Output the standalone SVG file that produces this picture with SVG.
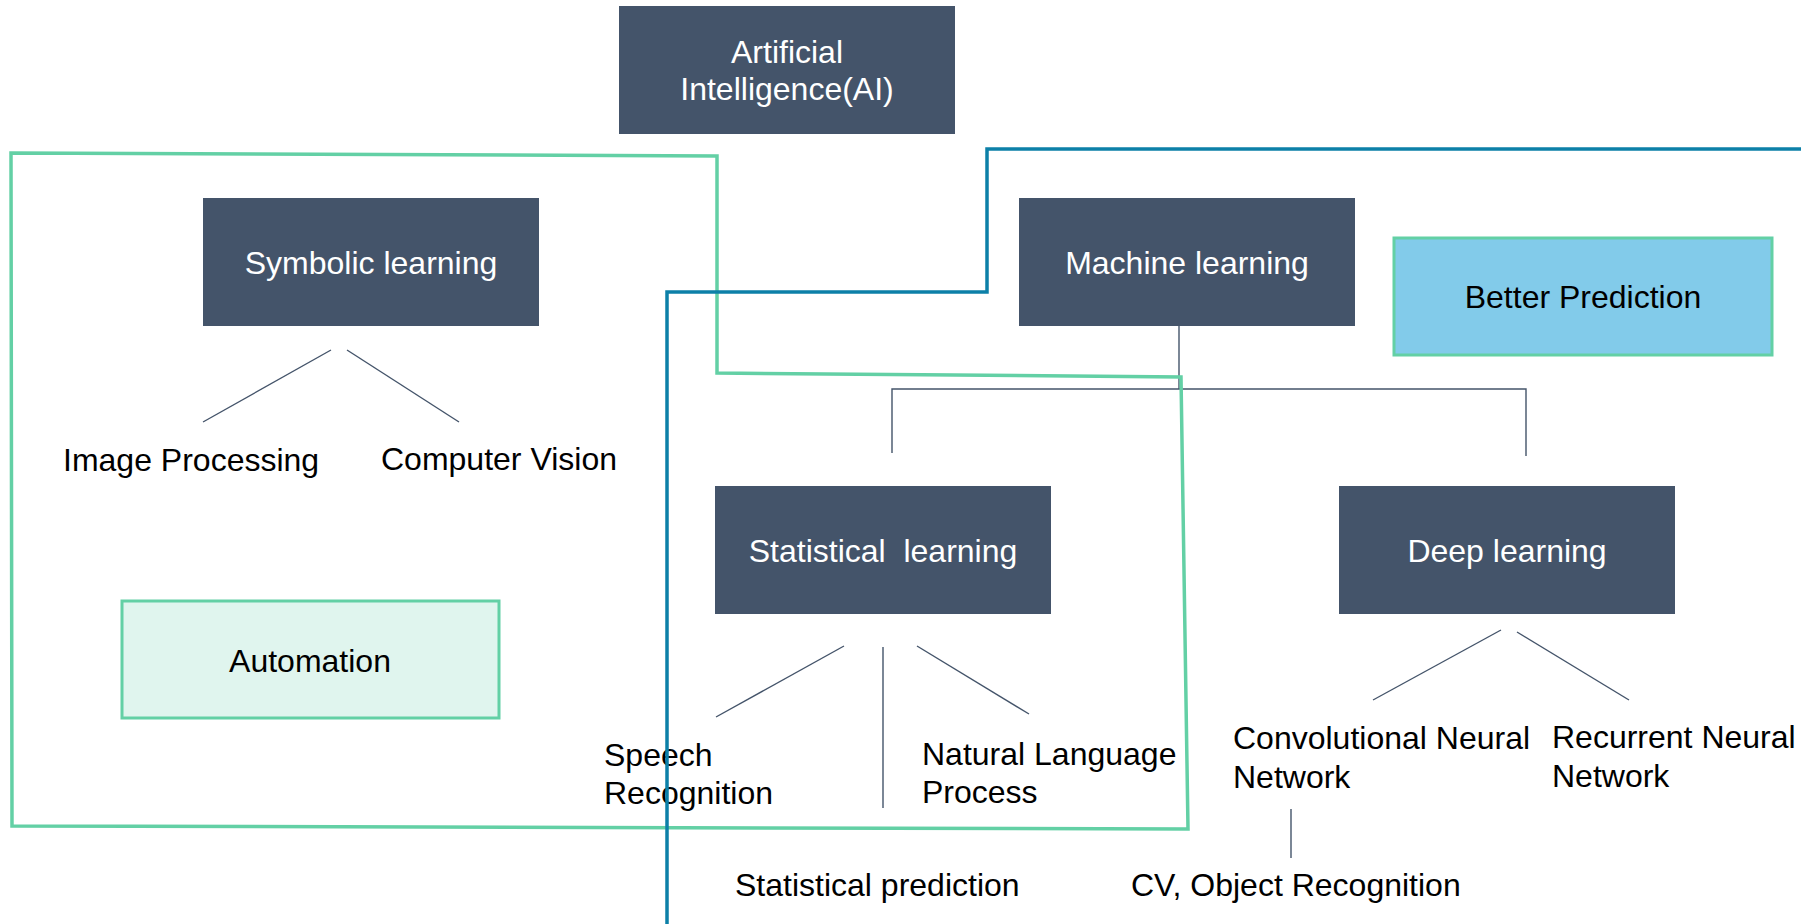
<svg xmlns="http://www.w3.org/2000/svg" width="1801" height="924" viewBox="0 0 1801 924">
  <style>
    .box { fill: #44546A; }
    .lbl { font-family: "Liberation Sans", Arial, sans-serif; font-size: 32px; }
    .w { fill: #FFFFFF; }
    .k { fill: #000000; }
    .mid { text-anchor: middle; }
    .conn { stroke: #44546A; stroke-width: 1.4; fill: none; }
    .zone-green { stroke: #63D0A5; stroke-width: 3.5; fill: none; stroke-linejoin: miter; }
    .zone-blue { stroke: #0C80A8; stroke-width: 3.5; fill: none; stroke-linejoin: miter; }
    .tag-green { fill: #E0F5EE; stroke: #63D0A5; stroke-width: 3; }
    .tag-blue { fill: #82CBEA; stroke: #63D0A5; stroke-width: 3; }
  </style>

  <rect width="1801" height="924" fill="#FFFFFF"/>

  <!-- connectors -->
  <g id="connectors">
    <!-- Symbolic learning branches -->
    <line class="conn" x1="331" y1="350" x2="203" y2="422"/>
    <line class="conn" x1="347" y1="350" x2="459" y2="422"/>
    <!-- Machine learning tree -->
    <line class="conn" x1="1179" y1="326" x2="1179" y2="389"/>
    <polyline class="conn" points="892,453 892,389 1526,389 1526,456"/>
    <!-- Statistical learning branches -->
    <line class="conn" x1="844" y1="646" x2="716" y2="717"/>
    <line class="conn" x1="883" y1="647" x2="883" y2="808"/>
    <line class="conn" x1="917" y1="646" x2="1029" y2="714"/>
    <!-- Deep learning branches -->
    <line class="conn" x1="1501" y1="630" x2="1373" y2="700"/>
    <line class="conn" x1="1517" y1="632" x2="1629" y2="700"/>
    <line class="conn" x1="1291" y1="809" x2="1291" y2="858"/>
  </g>

  <!-- green region outline -->
  <g id="zone-symbolic">
    <polygon class="zone-green" points="11,153 717,156 717,373 1181,377 1188,829 12,826"/>
  </g>

  <g id="node-ai">
    <rect class="box" x="619" y="6" width="336" height="128"/>
    <text class="lbl w mid" x="787" y="63">Artificial</text>
    <text class="lbl w mid" x="787" y="100">Intelligence(AI)</text>
  </g>

  <g id="node-symbolic">
    <rect class="box" x="203" y="198" width="336" height="128"/>
    <text class="lbl w mid" x="371" y="274">Symbolic learning</text>
  </g>

  <g id="node-machine">
    <rect class="box" x="1019" y="198" width="336" height="128"/>
    <text class="lbl w mid" x="1187" y="274">Machine learning</text>
  </g>

  <g id="node-better-prediction">
    <rect class="tag-blue" x="1394" y="238" width="378" height="117"/>
    <text class="lbl k mid" x="1583" y="308">Better Prediction</text>
  </g>

  <g id="node-image-processing">
    <text class="lbl k" x="63" y="471">Image Processing</text>
  </g>

  <g id="node-computer-vision">
    <text class="lbl k" x="381" y="470">Computer Vision</text>
  </g>

  <g id="node-automation">
    <rect class="tag-green" x="122" y="601" width="377" height="117"/>
    <text class="lbl k mid" x="310" y="672">Automation</text>
  </g>

  <g id="node-statistical">
    <rect class="box" x="715" y="486" width="336" height="128"/>
    <text class="lbl w mid" x="883" y="562" xml:space="preserve">Statistical  learning</text>
  </g>

  <g id="node-deep">
    <rect class="box" x="1339" y="486" width="336" height="128"/>
    <text class="lbl w mid" x="1507" y="562">Deep learning</text>
  </g>

  <g id="node-speech">
    <text class="lbl k" x="604" y="766">Speech</text>
    <text class="lbl k" x="604" y="804">Recognition</text>
  </g>

  <g id="node-nlp">
    <text class="lbl k" x="922" y="765">Natural Language</text>
    <text class="lbl k" x="922" y="803">Process</text>
  </g>

  <g id="node-cnn">
    <text class="lbl k" x="1233" y="749">Convolutional Neural</text>
    <text class="lbl k" x="1233" y="788">Network</text>
  </g>

  <g id="node-rnn">
    <text class="lbl k" x="1552" y="748">Recurrent Neural</text>
    <text class="lbl k" x="1552" y="787">Network</text>
  </g>

  <g id="node-statistical-prediction">
    <text class="lbl k" x="735" y="896">Statistical prediction</text>
  </g>

  <g id="node-cv-object">
    <text class="lbl k" x="1131" y="896">CV, Object Recognition</text>
  </g>

  <!-- blue region outline -->
  <g id="zone-machine">
    <polyline class="zone-blue" points="1801,149 987,149 987,292 667,292 667,924"/>
  </g>
</svg>
